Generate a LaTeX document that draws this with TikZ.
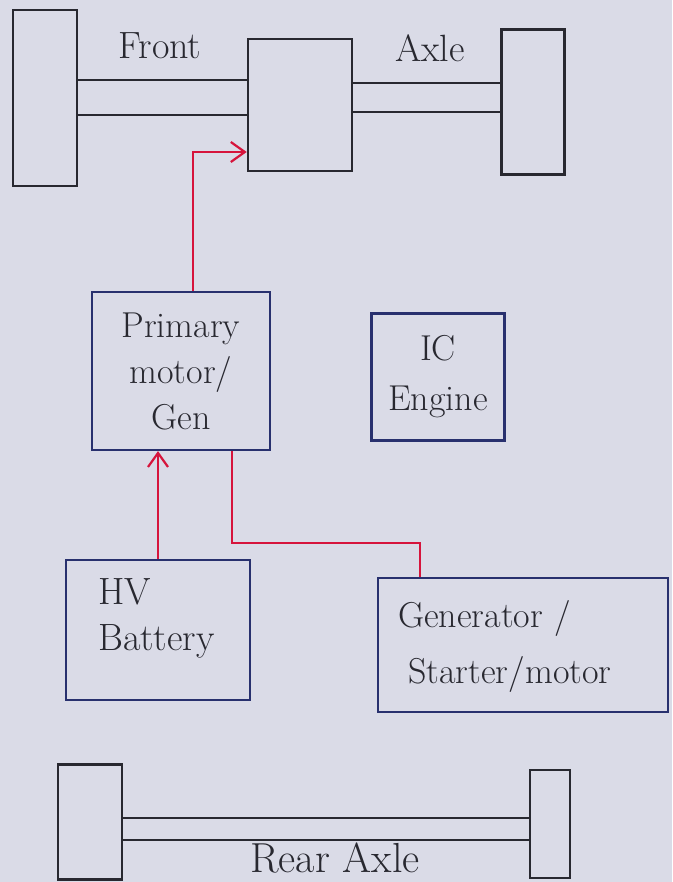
\documentclass[tikz,border=0pt]{standalone}
\usetikzlibrary{arrows.meta}
\definecolor{paper}{RGB}{218,219,231}
\definecolor{ink}{RGB}{40,40,48}
\definecolor{blueink}{RGB}{40,48,110}
\definecolor{redink}{RGB}{214,20,60}
\tikzset{
  wheel/.style={draw=ink,line width=2.6pt,minimum width=#1,inner sep=0pt},
  shaft/.style={draw=ink,line width=1.8pt},
  block/.style={draw=blueink,line width=2.2pt,inner sep=0pt,font=\fontsize{36}{46}\selectfont,text=ink},
  wire/.style={draw=redink,line width=2.2pt},
  wirearrow/.style={wire,-{Straight Barb[length=14pt,width=20pt,line width=2.2pt]}},
  lbl/.style={font=\fontsize{38}{44}\selectfont,text=ink,inner sep=0pt}
}
\begin{document}
\begin{tikzpicture}[x=1pt,y=-1pt]
\fill[paper] (0,0) rectangle (672,882);
\useasboundingbox (0,0) rectangle (672,882);
% front axle
\node[wheel=64pt,minimum height=176pt] (lwf) at (45,98) {};
\node[wheel=104pt,minimum height=132pt] (diff) at (300,105) {};
\node[wheel=63pt,minimum height=145pt] (rwf) at (533,102) {};
\draw[shaft] ([yshift=18pt]lwf.east) -- ([yshift=25pt]diff.west);
\draw[shaft] ([yshift=-17pt]lwf.east) -- ([yshift=-10pt]diff.west);
\draw[shaft] ([yshift=22pt]diff.east) -- ([yshift=19pt]rwf.west);
\draw[shaft] ([yshift=-7pt]diff.east) -- ([yshift=-10pt]rwf.west);
\node[lbl] (front) at (160,46) {Front};
\node[lbl] (axle) at (430,48) {Axle};
% blocks
\node[block,minimum width=178pt,minimum height=158pt,align=center] (prim) at (181,371) {Primary\\motor/\\Gen};
\node[block,minimum width=133pt,minimum height=127pt,align=center,font=\fontsize{36}{50}\selectfont] (ice) at (438,377) {IC\\Engine};
\node[block,minimum width=184pt,minimum height=140pt] (bat) at (158,630) {};
\node[lbl,anchor=north west,align=left,font=\fontsize{38}{46}\selectfont] (battxt) at (98,578) {HV\\Battery};
\node[block,minimum width=290pt,minimum height=134pt] (gen) at (523,645) {};
\node[lbl,anchor=north west,align=left,font=\fontsize{36}{56}\selectfont] (gentxt) at (398,600) {Generator /\\\hspace*{10pt}Starter/motor};
% wires
\draw[wirearrow] ([xshift=12pt]prim.north) |- ([yshift=-47pt]diff.west);
\draw[wirearrow] (bat.north) -- (bat.north |- prim.south);
\draw[wire] ([xshift=51pt]prim.south) -- ++(0,92) -| ([xshift=-103pt]gen.north);
% rear axle
\node[wheel=64pt,minimum height=115pt] (lwr) at (90,822) {};
\node[wheel=40pt,minimum height=108pt] (rwr) at (550,824) {};
\draw[shaft] ([yshift=4pt]lwr.east) -- ([yshift=6pt]rwr.west);
\draw[shaft] ([yshift=-18pt]lwr.east) -- ([yshift=-16pt]rwr.west);
\node[lbl,font=\fontsize{42}{48}\selectfont] (rear) at (335,858) {Rear Axle};
\end{tikzpicture}
\end{document}
